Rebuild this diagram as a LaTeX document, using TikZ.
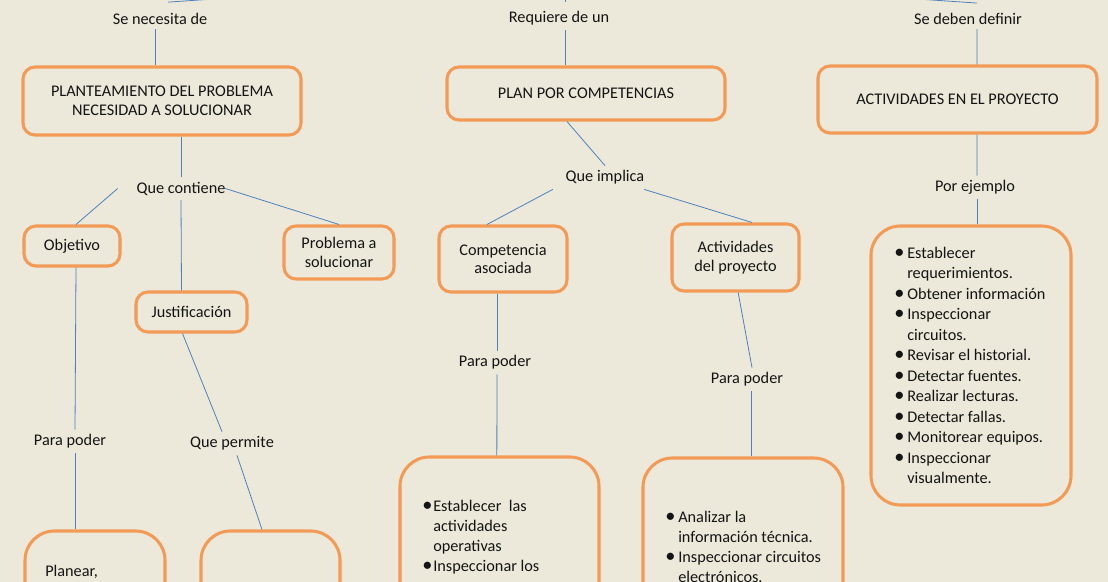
\documentclass[tikz,border=0pt]{standalone}
\usepackage{fontspec}
\setmainfont{Carlito}
\usetikzlibrary{fit}
\definecolor{bg}{RGB}{236,233,218}
\definecolor{obord}{RGB}{243,154,86}
\definecolor{lnk}{RGB}{79,129,189}
\definecolor{txt}{RGB}{20,20,20}
\newcommand\mybul[1][9.75pt]{\makebox[#1][l]{\scalebox{1.25}{•}}}
\newcommand\myind[1][9.75pt]{\hspace*{#1}}
\begin{document}
\begin{tikzpicture}[x=0.75pt,y=-0.75pt,
 box/.style={draw=obord, line width=2.3pt, rounded corners=9pt, inner sep=0pt, align=center, font=\fontsize{12.2}{13.9}\selectfont, text=txt},
 bigbox/.style={box, rounded corners=22pt},
 lab/.style={inner sep=3.5pt, font=\fontsize{12.2}{14}\selectfont, text=txt},
 lst/.style={inner sep=0pt, align=left, text=txt},
 link/.style={draw=lnk, line width=0.6pt}]
\useasboundingbox (0,0) rectangle (1108,582);
\clip (0,0) rectangle (1108,582);
\fill[bg] (0,0) rectangle (1108,582);

% boxes
\node[box, minimum width=208.5pt, minimum height=51pt] (pl) at (162,101) {PLANTEAMIENTO DEL PROBLEMA\\NECESIDAD A SOLUCIONAR};
\node[box, minimum width=208.5pt, minimum height=39.75pt] (plan) at (586,93.5) {PLAN POR COMPETENCIAS};
\node[box, minimum width=209.25pt, minimum height=50.25pt] (act2) at (957.5,99.5) {ACTIVIDADES EN EL PROYECTO};
\node[box, minimum width=72pt, minimum height=30pt] (ob) at (72,246) {Objetivo};
\node[box, minimum width=82.5pt, minimum height=39.75pt] (pr) at (339,252.5) {Problema a\\solucionar};
\node[box, minimum width=83.25pt, minimum height=30pt] (ju) at (191.5,312) {Justificación};
\node[box, minimum width=96pt, minimum height=49.5pt] (comp) at (503,259) {Competencia\\asociada};
\node[box, minimum width=95.25pt, minimum height=50.25pt] (act) at (735.5,257.5) {Actividades\\del proyecto};
\node[bigbox, fit={(25,531) (165,720)}] (b1) {};
\node[bigbox, fit={(201,531) (340,720)}] (b2) {};
\node[bigbox, fit={(400,457) (599,700)}] (b3) {};
\node[bigbox, fit={(643,458) (843,700)}] (b4) {};
\node[bigbox, fit={(871,226) (1071,505)}] (b5) {};

% box texts (anchored at the baseline of their last line)
\node[lst, font=\fontsize{12.2}{15}\selectfont, anchor=base west] (t1) at (45,576.5) {Planear,};
\node[lst, font=\fontsize{12.2}{15}\selectfont, anchor=base west] (t3) at (422,571.5) {\mybul[8.25pt]Establecer\ \ las\\\myind[8.25pt]actividades\\\myind[8.25pt]operativas\\\mybul[8.25pt]Inspeccionar los};
\node[lst, font=\fontsize{12.2}{15}\selectfont, anchor=base west] (t4) at (665,582.5) {\mybul Analizar la\\\myind información técnica.\\\mybul Inspeccionar circuitos\\\myind electrónicos.};
\node[lst, font=\fontsize{12.2}{15.34}\selectfont, anchor=base west] (t5) at (894,483.5) {\mybul Establecer\\\myind requerimientos.\\\mybul Obtener información\\\mybul Inspeccionar\\\myind circuitos.\\\mybul Revisar el historial.\\\mybul Detectar fuentes.\\\mybul Realizar lecturas.\\\mybul Detectar fallas.\\\mybul Monitorear equipos.\\\mybul Inspeccionar\\\myind visualmente.};

% labels
\node[lab] (l1) at (160,18.5) {Se necesita de};
\node[lab] (l2) at (559,18.5) {Requiere de un};
\node[lab] (l3) at (968,18.5) {Se deben definir};
\node[lab] (qc) at (181,188.5) {Que contiene};
\node[lab] (pp1) at (70,441.5) {Para poder};
\node[lab] (qp) at (232,443.5) {Que permite};
\node[lab] (qi) at (605,177.5) {Que implica};
\node[lab] (pp2) at (495,362.5) {Para poder};
\node[lab] (pp3) at (747,379.5) {Para poder};
\node[lab] (pe) at (975,187.5) {Por ejemplo};

% connectors
\coordinate (root) at (565,-25);
\draw[link] (root) -- ([xshift=6pt,yshift=4.3pt]l1.north);
\draw[link] (root) -- ([xshift=4.5pt,yshift=3.6pt]l2.north);
\draw[link] (root) -- ([xshift=6.75pt,yshift=3.6pt]l3.north);

\draw[link] ([xshift=-3.75pt]l1.south) -- ([xshift=-5.25pt]pl.north);
\draw[link] ([xshift=14.25pt]pl.south) -- (qc.north);
\draw[link] ([xshift=-10.5pt]qc.west) -- ([xshift=3pt]ob.north);
\draw[link] ([xshift=-3.75pt]qc.east) -- (pr.north);
\draw[link] (qc.south) -- ([xshift=-7.5pt]ju.north);
\draw[link] ([xshift=3pt]ob.south) -- ([xshift=3.75pt]pp1.north);
\draw[link] ([xshift=3.75pt]pp1.south) -- ([xshift=-15pt]b1.north);
\draw[link] ([xshift=-6.75pt]ju.south) -- ([xshift=-7.5pt]qp.north);
\draw[link] ([xshift=3.75pt]qp.south) -- ([xshift=-6.4pt]b2.north);

\draw[link] ([xshift=4.5pt]l2.south) -- ([xshift=-15.75pt]plan.north);
\draw[link] ([xshift=-14.25pt]plan.south) -- (qi.north);
\draw[link] ([xshift=-6pt]qi.south west) -- ([xshift=-12pt]comp.north);
\draw[link] ([xshift=-3.75pt]qi.south east) -- ([xshift=12.4pt]act.north);
\draw[link] ([xshift=-4.5pt]comp.south) -- ([xshift=1.5pt]pp2.north);
\draw[link] ([xshift=1.5pt]pp2.south) -- ([xshift=-2pt]b3.north);
\draw[link] ([xshift=2pt]act.south) -- ([xshift=3.75pt]pp3.north);
\draw[link] ([xshift=3pt]pp3.south) -- ([xshift=6pt]b4.north);

\draw[link] ([xshift=6.75pt]l3.south) -- ([xshift=14.6pt]act2.north);
\draw[link] ([xshift=14.6pt]act2.south) -- ([xshift=1.5pt]pe.north);
\draw[link] ([xshift=1.5pt]pe.south) -- ([xshift=4.5pt]b5.north);
\end{tikzpicture}
\end{document}
